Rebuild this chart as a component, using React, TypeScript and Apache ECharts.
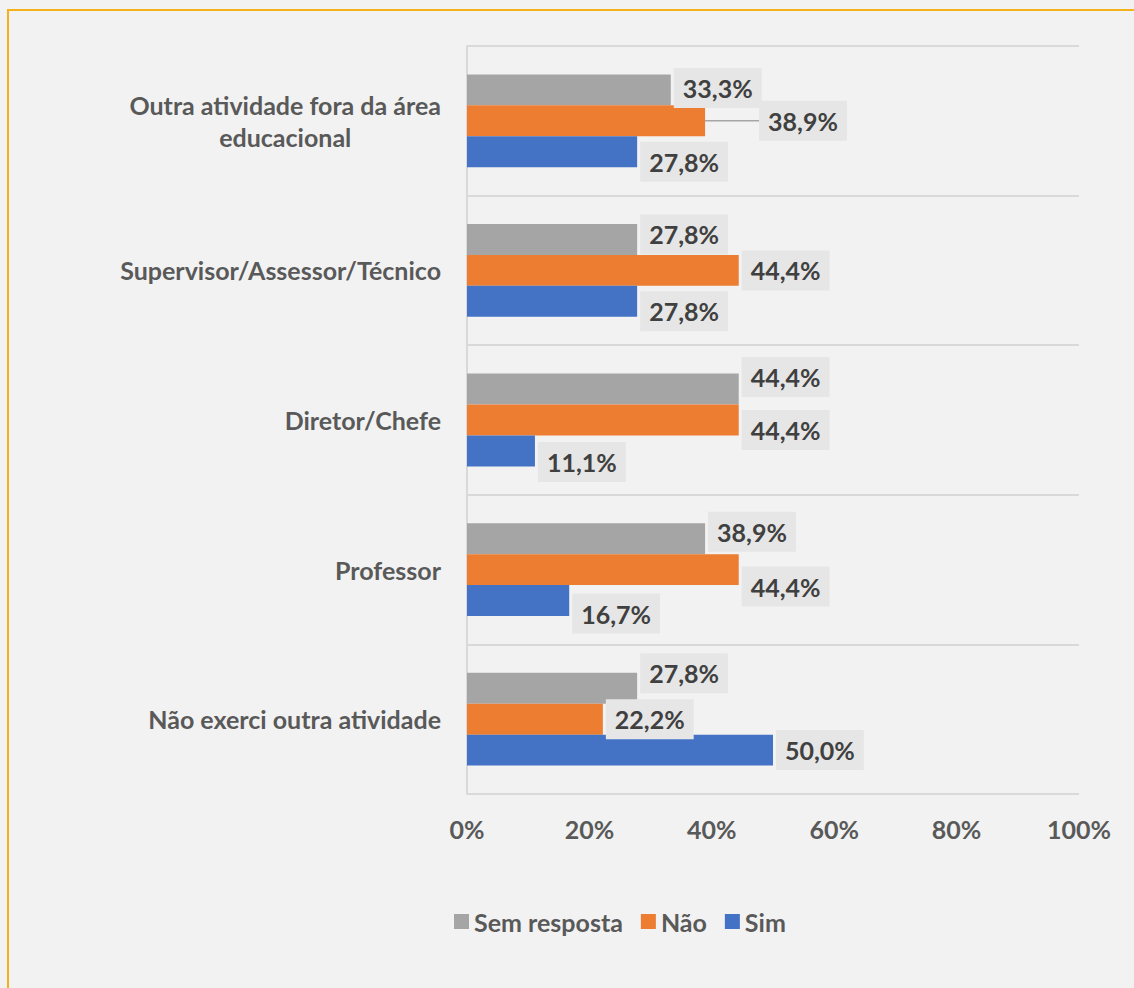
import React, { useEffect, useRef } from "react";
import * as echarts from "echarts";

const categories = [
  "Não exerci outra atividade",
  "Professor",
  "Diretor/Chefe",
  "Supervisor/Assessor/Técnico",
  "Outra atividade fora da área\neducacional",
];
const semResposta = [27.8, 38.9, 44.4, 27.8, 33.3];
const nao = [22.2, 44.4, 44.4, 44.4, 38.9];
const sim = [50.0, 16.7, 11.1, 27.8, 27.8];
const xTicks = [0, 20, 40, 60, 80, 100];

// label nudges (layout only), keyed by series: 0 Sem resposta, 1 Não, 2 Sim
const labelDy: Record<number, number[]> = {
  0: [-15, -7, -12, -5, -2],
  1: [0, 17, 10, 0, 0],
  2: [0, 13, 11, 10, 10],
};
const labelDx: Record<number, number[]> = {
  0: [0, 0, 0, 0, 0],
  1: [0, 0, 0, 0, 51],
  2: [0, 0, 0, 0, 0],
};

const FONT = "Lato";
const FS = 25;
const fmt = (v: number) => v.toFixed(1).replace(".", ",") + "%";

export default function App() {
  const ref = useRef<HTMLDivElement>(null);
  useEffect(() => {
    if (!ref.current) return;
    const chart = echarts.init(ref.current, undefined, { renderer: "svg" });
    const label = {
      show: true,
      position: "right",
      distance: 3,
      formatter: (p: any) => fmt(p.value),
      fontFamily: FONT,
      fontWeight: "bold",
      fontSize: FS,
      color: "#404040",
      backgroundColor: "#e6e6e6",
      padding: [8, 9, 7, 9],
    };
    const mk = (name: string, vals: number[], color: string, idx: number) => ({
      name,
      type: "bar",
      barGap: "0%",
      barCategoryGap: "38%",
      itemStyle: { color },
      label,
      labelLine: { show: false },
      data: vals.map((v, i) =>
        idx === 1 && i === 4
          ? { value: v, labelLine: { show: true, lineStyle: { color: "#a6a6a6", width: 1.5 } } }
          : v
      ),
      labelLayout: (p: any) => ({
        dx: labelDx[idx][p.dataIndex],
        dy: labelDy[idx][p.dataIndex],
      }),
    });
    chart.setOption({
      animation: false,
      backgroundColor: "transparent",
      grid: { left: 467, right: 55, top: 46, bottom: 194, containLabel: false },
      legend: {
        data: ["Sem resposta", "Não", "Sim"],
        top: 904,
        left: 449,
        itemWidth: 15,
        itemHeight: 15,
        itemGap: 18,
        icon: "rect",
        textStyle: { fontFamily: FONT, fontWeight: "bold", fontSize: FS, color: "#595959" },
      },
      xAxis: {
        type: "value",
        min: xTicks[0],
        max: xTicks[xTicks.length - 1],
        interval: 20,
        axisLine: { show: false },
        axisTick: { show: false },
        splitLine: { show: false },
        axisLabel: {
          formatter: (v: number) => v + "%",
          fontFamily: FONT,
          fontWeight: "bold",
          fontSize: FS,
          color: "#595959",
          margin: 22,
        },
      },
      yAxis: {
        type: "category",
        data: categories,
        axisLine: { show: true, lineStyle: { color: "#d9d9d9", width: 2 } },
        axisTick: { show: false },
        splitLine: { show: true, lineStyle: { color: "#d9d9d9", width: 2 } },
        axisLabel: {
          margin: 26,
          fontFamily: FONT,
          fontWeight: "bold",
          fontSize: FS,
          color: "#595959",
          lineHeight: 32,
          formatter: (v: string) =>
            v.split("\n").map((s) => `{c|${s}}`).join("\n"),
          rich: {
            c: {
              align: "center",
              fontFamily: FONT,
              fontWeight: "bold",
              fontSize: FS,
              color: "#595959",
              lineHeight: 32,
            },
          },
        },
      },
      series: [
        mk("Sem resposta", semResposta, "#a5a5a5", 0),
        mk("Não", nao, "#ed7d31", 1),
        mk("Sim", sim, "#4472c4", 2),
      ],
    });
    return () => chart.dispose();
  }, []);
  return (
    <div
      style={{
        position: "fixed",
        left: 0,
        top: 0,
        width: 1134,
        height: 988,
        background: "#f2f2f2",
        overflow: "hidden",
      }}
    >
      <div
        style={{
          position: "absolute",
          left: 7,
          top: 9,
          width: 1140,
          height: 1000,
          borderLeft: "2px solid #f4b11a",
          borderTop: "2px solid #f4b11a",
          boxSizing: "border-box",
        }}
      />
      <div ref={ref} style={{ position: "absolute", left: 0, top: 0, width: 1134, height: 988 }} />
    </div>
  );
}
